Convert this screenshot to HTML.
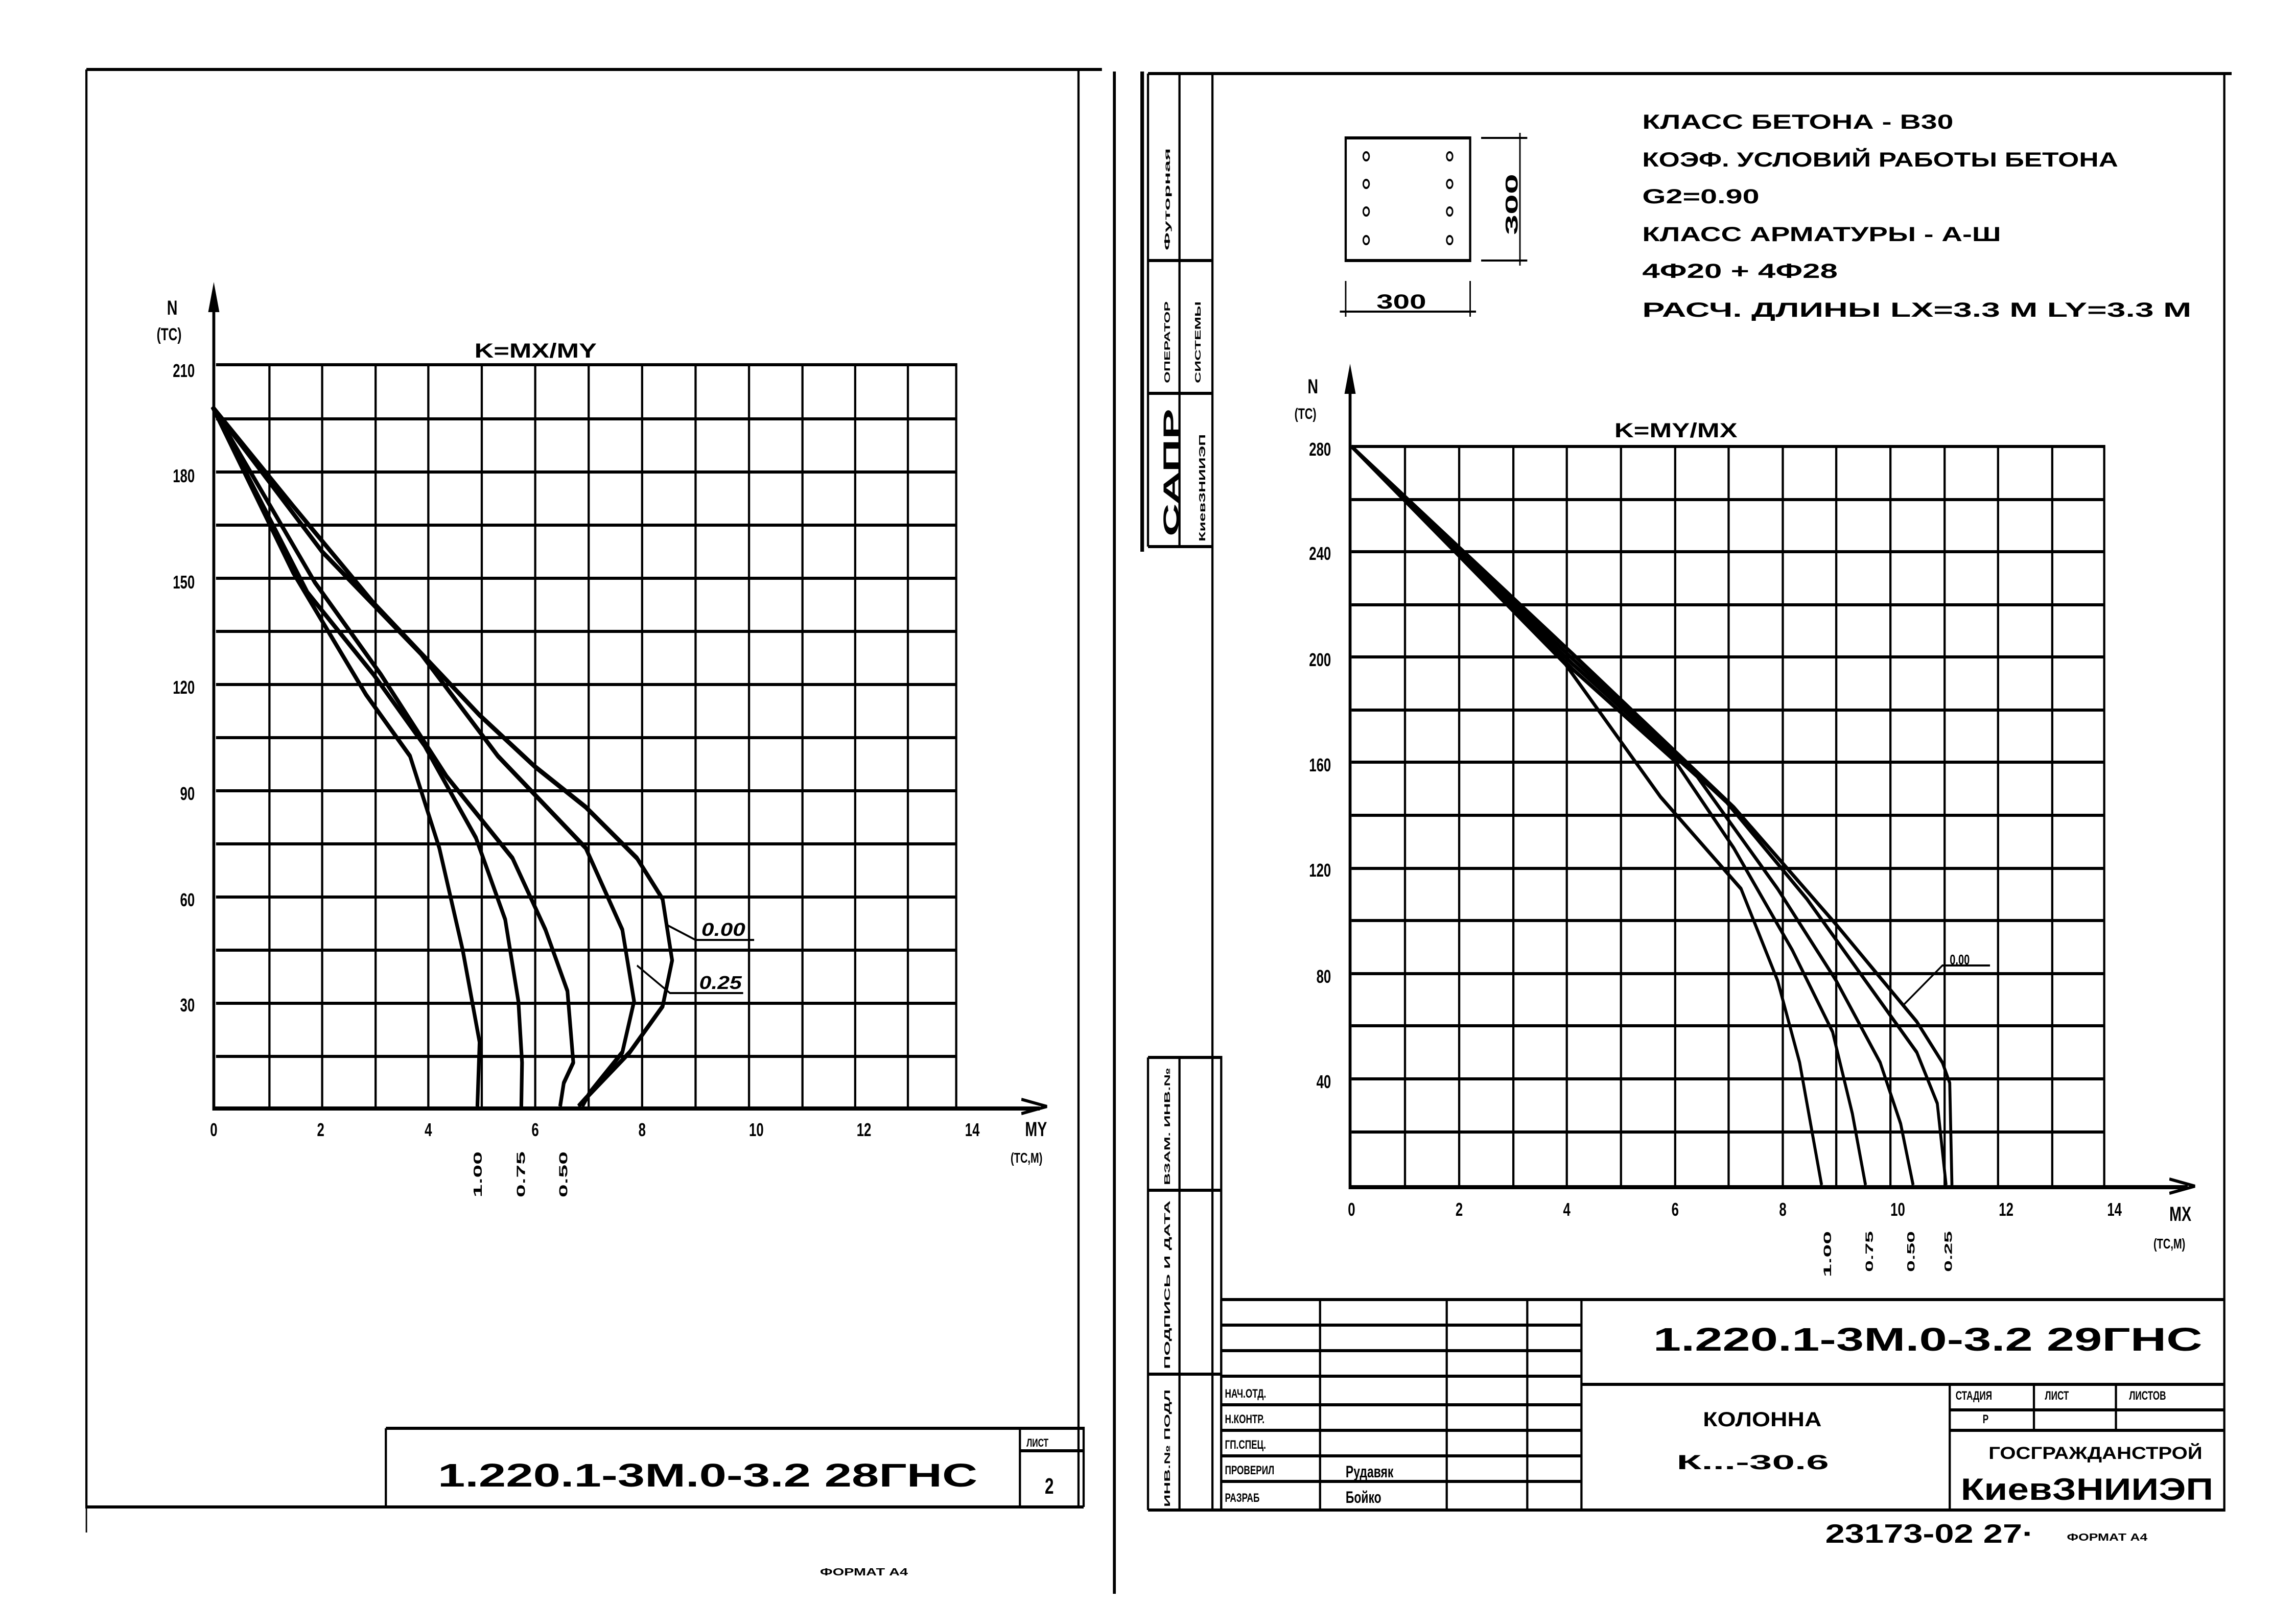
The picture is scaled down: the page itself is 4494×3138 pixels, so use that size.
<!DOCTYPE html>
<html><head><meta charset="utf-8"><style>
html,body{margin:0;padding:0;background:#fff;}
svg{display:block;}
text{font-family:"Liberation Sans","DejaVu Sans",sans-serif;font-weight:bold;fill:#000;}
</style></head><body>
<svg width="4494" height="3138" viewBox="0 0 4494 3138" xmlns="http://www.w3.org/2000/svg">
<rect width="4494" height="3138" fill="#fff"/>
<!-- LEFT SHEET -->
<g transform="scale(1.4331,2.0)" fill="none" stroke="#000">
  <path d="M118 68 H1505 M118 68 V1475 H1480 M1473 68 V1475" stroke-width="3"/>
  <path d="M118 1475 V1500" stroke-width="2"/>
  <path d="M1522 70 V1560" stroke-width="4"/>
  <path d="M1560 70 V540" stroke-width="5"/>
  <path d="M527 1398 H1480 V1475 M527 1398 V1475 M1393 1398 V1475 M1393 1420 H1480" stroke-width="3"/>
  <g stroke-width="3">
    <path d="M295 357 H1306 V1083"/>
    <path d="M368 357V1083 M440 357V1083 M513 357V1083 M585 357V1083 M658 357V1083 M731 357V1083 M804 357V1083 M877 357V1083 M950 357V1083 M1023 357V1083 M1096 357V1083 M1168 357V1083 M1240 357V1083"/>
    <path d="M295 410H1306 M295 462H1306 M295 514H1306 M295 566H1306 M295 618H1306 M295 670H1306 M295 722H1306 M295 774H1306 M295 826H1306 M295 878H1306 M295 930H1306 M295 982H1306 M295 1034H1306"/>
  </g>
  <path d="M292 290 V1085 H1420" stroke-width="4"/>
  <path d="M285 305 L292 278 L299 305 Z" fill="#000"/>
  <path d="M1395 1076 L1430 1083 L1395 1090" stroke-width="3"/>
  <g stroke-width="5" stroke-linejoin="round">
    <path d="M290 398 L400 495 L510 590 L655 700 L730 750 L800 790 L870 840 L905 880 L918 940 L905 985 L860 1030 L800 1075 L790 1083"/>
    <path d="M290 398 L440 540 L575 640 L680 740 L800 830 L850 910 L866 980 L850 1030 L805 1070 L795 1083"/>
    <path d="M290 398 L430 570 L520 660 L610 760 L700 840 L745 910 L775 970 L783 1040 L770 1060 L765 1083"/>
    <path d="M290 398 L420 580 L510 660 L580 730 L650 820 L690 900 L708 980 L713 1040 L712 1083"/>
    <path d="M290 398 L400 560 L500 680 L560 740 L600 830 L632 930 L655 1020 L652 1083"/>
  </g>
  <path d="M910 905 L950 920 H1030 M870 945 L915 972 H1015" stroke-width="2"/>
</g>
<g transform="scale(1.4331,2.0)" font-size="18">
  <text x="228" y="308" font-size="20">N</text>
  <text x="214" y="333" font-size="17">(TC)</text>
  <text x="648" y="350" font-size="20" textLength="167" lengthAdjust="spacingAndGlyphs">K=MX/MY</text>
  <g text-anchor="end">
    <text x="266" y="369">210</text><text x="266" y="472">180</text><text x="266" y="576">150</text>
    <text x="266" y="679">120</text><text x="266" y="783">90</text><text x="266" y="887">60</text><text x="266" y="990">30</text>
  </g>
  <g text-anchor="middle">
    <text x="292" y="1112">0</text><text x="438" y="1112">2</text><text x="585" y="1112">4</text><text x="731" y="1112">6</text>
    <text x="877" y="1112">8</text><text x="1033" y="1112">10</text><text x="1180" y="1112">12</text><text x="1328" y="1112">14</text>
    <text x="1415" y="1112" font-size="20">MY</text><text x="1402" y="1138" font-size="14">(TC,M)</text>
  </g>
  <text x="958" y="916" font-style="italic" font-weight="normal" textLength="60" lengthAdjust="spacingAndGlyphs">0.00</text>
  <text x="955" y="968" font-style="italic" font-weight="normal" textLength="58" lengthAdjust="spacingAndGlyphs">0.25</text>
  <text transform="translate(658,1172) rotate(-90)" font-size="16" textLength="45" lengthAdjust="spacingAndGlyphs">1.00</text>
  <text transform="translate(717,1172) rotate(-90)" font-size="16" textLength="45" lengthAdjust="spacingAndGlyphs">0.75</text>
  <text transform="translate(775,1172) rotate(-90)" font-size="16" textLength="45" lengthAdjust="spacingAndGlyphs">0.50</text>
  <text x="598" y="1455" font-size="32" font-weight="normal" textLength="737" lengthAdjust="spacingAndGlyphs">1.220.1-3M.0-3.2 28ГНС</text>
  <text x="1402" y="1416" font-size="11" font-weight="normal">ЛИСТ</text>
  <text x="1427" y="1462" font-size="22" font-weight="normal">2</text>
  <text x="1120" y="1542" font-size="10" textLength="120" lengthAdjust="spacingAndGlyphs">ФОРМАТ А4</text>
</g>

<!-- RIGHT SHEET -->
<g transform="translate(2247,0) scale(1.4331,2.0)" fill="none" stroke="#000">
  <path d="M0 72 H1480 M1470 72 V1478 H0 M88 72 V1478 M0 72 V535" stroke-width="3"/>
  <path d="M43 72 V535 M0 255 H88 M0 385 H88 M0 535 H88" stroke-width="3"/>
  <path d="M0 1035 H100 V1478 M0 1035 V1478 M43 1035 V1478 M0 1165 H100 M0 1345 H100" stroke-width="3"/>
  <rect x="270" y="135" width="170" height="120" stroke-width="3"/>
  <g stroke-width="2"><circle cx="298" cy="153" r="4"/><circle cx="298" cy="180" r="4"/><circle cx="298" cy="207" r="4"/><circle cx="298" cy="235" r="4"/>
  <circle cx="412" cy="153" r="4"/><circle cx="412" cy="180" r="4"/><circle cx="412" cy="207" r="4"/><circle cx="412" cy="235" r="4"/></g>
  <path d="M455 135 H518 M455 255 H518 M508 130 V260 M270 275 V310 M440 275 V310 M262 305 H448" stroke-width="2"/>
  <g stroke-width="3">
    <path d="M278 437 H1306 V1160"/>
    <path d="M351 437V1160 M425 437V1160 M499 437V1160 M572 437V1160 M646 437V1160 M720 437V1160 M793 437V1160 M867 437V1160 M940 437V1160 M1014 437V1160 M1088 437V1160 M1161 437V1160 M1235 437V1160"/>
    <path d="M278 489H1306 M278 540H1306 M278 592H1306 M278 643H1306 M278 695H1306 M278 746H1306 M278 798H1306 M278 850H1306 M278 901H1306 M278 953H1306 M278 1004H1306 M278 1056H1306 M278 1108H1306"/>
  </g>
  <path d="M276 368 V1162 H1420" stroke-width="4"/>
  <path d="M269 385 L276 358 L283 385 Z" fill="#000"/>
  <path d="M1395 1154 L1430 1161 L1395 1168" stroke-width="3"/>
  <g stroke-width="4" stroke-linejoin="round">
    <path d="M278 437 L580 640 L800 790 L940 905 L1050 1000 L1085 1040 L1095 1060 L1098 1160"/>
    <path d="M278 437 L580 645 L790 785 L900 880 L1000 980 L1050 1030 L1078 1080 L1090 1160"/>
    <path d="M278 437 L580 650 L750 760 L860 870 L940 960 L1000 1040 L1028 1100 L1045 1160"/>
    <path d="M278 437 L580 655 L720 745 L800 830 L880 930 L935 1010 L962 1090 L980 1160"/>
    <path d="M278 437 L570 650 L700 780 L810 870 L860 960 L890 1040 L920 1160"/>
  </g>
  <path d="M1030 985 L1085 945 H1150" stroke-width="2"/>
  <g stroke-width="3">
    <path d="M100 1272 H1470 M592 1355 H1470 M100 1272 V1478 M235 1272 V1478 M408 1272 V1478 M518 1272 V1478 M592 1272 V1478"/>
    <path d="M100 1297 H592 M100 1322 H592 M100 1347 H592 M100 1375 H592 M100 1400 H592 M100 1425 H592 M100 1450 H592"/>
    <path d="M1095 1355 V1478 M1210 1355 V1400 M1322 1355 V1400 M1095 1380 H1470 M1095 1400 H1470"/>
  </g>
</g>
<g transform="translate(2247,0) scale(1.4331,2.0)" font-size="18">
  <g font-size="20">
    <text x="675" y="126" textLength="425" lengthAdjust="spacingAndGlyphs">КЛАСС БЕТОНА - В30</text>
    <text x="675" y="163" textLength="650" lengthAdjust="spacingAndGlyphs">КОЭФ. УСЛОВИЙ РАБОТЫ БЕТОНА</text>
    <text x="675" y="199" textLength="160" lengthAdjust="spacingAndGlyphs">G2=0.90</text>
    <text x="675" y="236" textLength="490" lengthAdjust="spacingAndGlyphs">КЛАСС АРМАТУРЫ - А-Ш</text>
    <text x="675" y="272" textLength="267" lengthAdjust="spacingAndGlyphs">4Ф20 + 4Ф28</text>
    <text x="675" y="310" textLength="750" lengthAdjust="spacingAndGlyphs">РАСЧ. ДЛИНЫ  LX=3.3 M  LY=3.3 M</text>
  </g>
  <text x="312" y="302" font-size="20" font-weight="normal" textLength="68" lengthAdjust="spacingAndGlyphs">300</text>
  <text transform="translate(505,230) rotate(-90)" font-size="24" font-weight="normal" textLength="60" lengthAdjust="spacingAndGlyphs">300</text>
  <text x="218" y="385" font-size="20">N</text>
  <text x="200" y="410" font-size="15">(TC)</text>
  <text x="637" y="428" font-size="20" textLength="168" lengthAdjust="spacingAndGlyphs">K=MY/MX</text>
  <g text-anchor="end">
    <text x="250" y="446">280</text><text x="250" y="548">240</text><text x="250" y="652">200</text><text x="250" y="755">160</text>
    <text x="250" y="858">120</text><text x="250" y="962">80</text><text x="250" y="1065">40</text>
  </g>
  <g text-anchor="middle">
    <text x="278" y="1190">0</text><text x="425" y="1190">2</text><text x="572" y="1190">4</text><text x="720" y="1190">6</text>
    <text x="867" y="1190">8</text><text x="1024" y="1190">10</text><text x="1172" y="1190">12</text><text x="1320" y="1190">14</text>
    <text x="1410" y="1195" font-size="20">MX</text><text x="1395" y="1222" font-size="14">(TC,M)</text>
  </g>
  <text x="1095" y="944" font-size="14" font-weight="normal">0.00</text>
  <text transform="translate(933,1250) rotate(-90)" font-size="15" textLength="45" lengthAdjust="spacingAndGlyphs">1.00</text>
  <text transform="translate(990,1245) rotate(-90)" font-size="15" textLength="40" lengthAdjust="spacingAndGlyphs">0.75</text>
  <text transform="translate(1047,1245) rotate(-90)" font-size="15" textLength="40" lengthAdjust="spacingAndGlyphs">0.50</text>
  <text transform="translate(1098,1245) rotate(-90)" font-size="15" textLength="40" lengthAdjust="spacingAndGlyphs">0.25</text>
  <text x="690" y="1322" font-size="32" font-weight="normal" textLength="750" lengthAdjust="spacingAndGlyphs">1.220.1-3M.0-3.2 29ГНС</text>
  <g font-size="12" font-weight="normal">
    <text x="105" y="1368">НАЧ.ОТД.</text><text x="105" y="1393">Н.КОНТР.</text><text x="105" y="1418">ГП.СПЕЦ.</text>
    <text x="105" y="1443">ПРОВЕРИЛ</text><text x="105" y="1470">РАЗРАБ</text>
    <text x="270" y="1446" font-family="Liberation Serif,serif" font-size="16">Рудавяк</text>
    <text x="270" y="1471" font-family="Liberation Serif,serif" font-size="16">Бойко</text>
    <text x="1103" y="1370" font-size="12">СТАДИЯ</text><text x="1225" y="1370">ЛИСТ</text><text x="1340" y="1370">ЛИСТОВ</text>
    <text x="1140" y="1393">Р</text>
  </g>
  <text x="758" y="1396" font-size="20" font-weight="normal" textLength="162" lengthAdjust="spacingAndGlyphs">КОЛОННА</text>
  <text x="722" y="1438" font-size="20" font-weight="normal" textLength="208" lengthAdjust="spacingAndGlyphs">К...-30.6</text>
  <text x="1148" y="1428" font-size="17" font-weight="normal" textLength="292" lengthAdjust="spacingAndGlyphs">ГОСГРАЖДАНСТРОЙ</text>
  <text x="1110" y="1468" font-size="30" font-weight="normal" textLength="345" lengthAdjust="spacingAndGlyphs">КиевЗНИИЭП</text>
  <text x="925" y="1510" font-size="26" font-weight="normal" font-family="Liberation Serif,serif" textLength="285" lengthAdjust="spacingAndGlyphs">23173-02  27·</text>
  <text x="1255" y="1508" font-size="10" textLength="110" lengthAdjust="spacingAndGlyphs">ФОРМАТ А4</text>
  <g font-size="11">
    <text transform="translate(30,245) rotate(-90)" textLength="100" lengthAdjust="spacingAndGlyphs">Футорная</text>
    <text transform="translate(30,375) rotate(-90)" textLength="80" lengthAdjust="spacingAndGlyphs">ОПЕРАТОР</text>
    <text transform="translate(72,375) rotate(-90)" textLength="80" lengthAdjust="spacingAndGlyphs">СИСТЕМЫ</text>
    <text transform="translate(42,525) rotate(-90)" font-size="30" font-weight="normal" textLength="125" lengthAdjust="spacingAndGlyphs">САПР</text>
    <text transform="translate(78,530) rotate(-90)" font-size="12" font-weight="normal" textLength="105" lengthAdjust="spacingAndGlyphs">КиевЗНИИЭП</text>
    <text transform="translate(30,1160) rotate(-90)" textLength="115" lengthAdjust="spacingAndGlyphs">ВЗАМ. ИНВ.№</text>
    <text transform="translate(30,1340) rotate(-90)" textLength="165" lengthAdjust="spacingAndGlyphs">ПОДПИСЬ И ДАТА</text>
    <text transform="translate(30,1475) rotate(-90)" textLength="115" lengthAdjust="spacingAndGlyphs">ИНВ.№ ПОДЛ</text>
  </g>
</g>
</svg>
</body></html>
